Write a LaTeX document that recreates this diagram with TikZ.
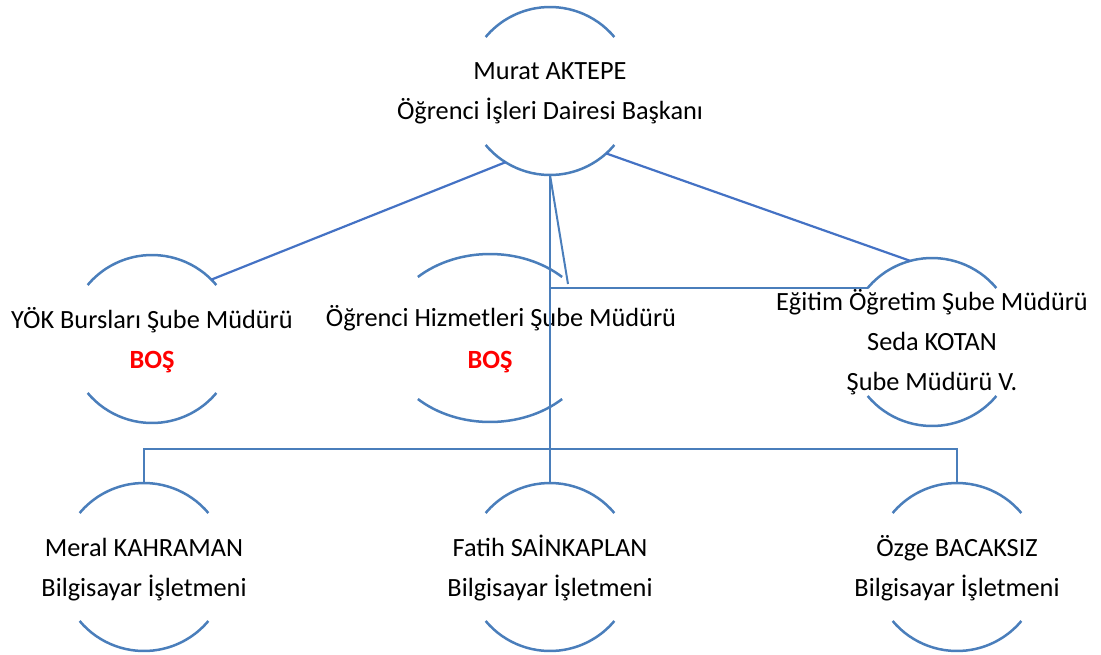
\documentclass[tikz,border=0pt]{standalone}
\usepackage{fontspec}
\setmainfont{Carlito}
\usepackage{tikz}
\usetikzlibrary{
    positioning,
    shapes.geometric
}

\begin{document}
\begin{tikzpicture}[
    x=1pt, y=1pt,
    font=\fontsize{26.3}{40}\selectfont,
    ring/.style={
    	circle, draw=none,
    	minimum size=168pt,
    	inner sep=0pt, outer sep=0pt
    }, oval/.style={
    	ellipse, draw=none,
    	minimum width=210pt, minimum height=168pt,
    	inner sep=0pt, outer sep=0pt
    }, txt/.style={
    	anchor=base, align=center, inner sep=0pt
    }, rim/.style={
    	draw=arc-blue, line width=2.5pt
    }, tree/.style={
    	draw=arc-blue, line width=2.6pt
    }, link/.style={
    	draw=link-blue, line width=2.2pt
    }]
    \definecolor{arc-blue}{RGB}{74, 126, 187}
    \definecolor{link-blue}{RGB}{68, 114, 196}
    \definecolor{boss-red}{RGB}{255, 0, 0}

    \useasboundingbox (0,0) rectangle (1101,-654);

    %%% SHAPES
    \node[ring] (baskan) at (550,-91) {};
    \node[ring] (yok) at (152,-339) {};
    \node[oval] (hizmet) at (490,-338) {};
    \node[ring] (egitim) at (932,-342) {};
    \node[ring] (meral) at (144,-567) {};
    \node[ring] (fatih) at (550,-567) {};
    \node[ring] (ozge) at (957,-567) {};

    \draw[rim] (baskan.40) arc[start angle=40, end angle=140, radius=84pt];
    \draw[rim] (baskan.220) arc[start angle=220, end angle=320, radius=84pt];
    \draw[rim] (yok.40) arc[start angle=40, end angle=140, radius=84pt];
    \draw[rim] (yok.220) arc[start angle=220, end angle=320, radius=84pt];
    \draw[rim] ([shift={(46.6:105pt and 84pt)}]hizmet.center) arc[start angle=46.6, end angle=133.4, x radius=105pt, y radius=84pt];
    \draw[rim] ([shift={(226.6:105pt and 84pt)}]hizmet.center) arc[start angle=226.6, end angle=313.4, x radius=105pt, y radius=84pt];
    \draw[rim] (egitim.40) arc[start angle=40, end angle=140, radius=84pt];
    \draw[rim] (egitim.220) arc[start angle=220, end angle=320, radius=84pt];
    \draw[rim] (meral.40) arc[start angle=40, end angle=140, radius=84pt];
    \draw[rim] (meral.220) arc[start angle=220, end angle=320, radius=84pt];
    \draw[rim] (fatih.40) arc[start angle=40, end angle=140, radius=84pt];
    \draw[rim] (fatih.220) arc[start angle=220, end angle=320, radius=84pt];
    \draw[rim] (ozge.40) arc[start angle=40, end angle=140, radius=84pt];
    \draw[rim] (ozge.220) arc[start angle=220, end angle=320, radius=84pt];
    %%% SHAPES

    %%% TEXTS (base = last line)
    \node[txt] (baskan-txt) at (550,-119) {Murat AKTEPE\\Öğrenci İşleri Dairesi Başkanı};
    \node[txt] (yok-txt) at (152,-368) {YÖK Bursları Şube Müdürü\\\textcolor{boss-red}{\bfseries BOŞ}};
    \node[txt] (hizmet-txt) at (501,-326) {Öğrenci Hizmetleri Şube Müdürü};
    \node[txt, text=boss-red, font=\fontsize{26.3}{40}\selectfont\bfseries] (hizmet-bos) at (490,-368) {BOŞ};
    \node[txt] (egitim-txt) at (932,-390) {Eğitim Öğretim Şube Müdürü\\Seda KOTAN\\Şube Müdürü V.};
    \node[txt] (meral-txt) at (144,-596) {Meral KAHRAMAN\\Bilgisayar İşletmeni};
    \node[txt] (fatih-txt) at (550,-596) {Fatih SAİNKAPLAN\\Bilgisayar İşletmeni};
    \node[txt] (ozge-txt) at (957,-596) {Özge BACAKSIZ\\Bilgisayar İşletmeni};
    %%% TEXTS

    %%% EDGES
    \coordinate (bus) at (baskan.south |- 0,-449);
    \coordinate (side) at (baskan.south |- egitim.140);
    \coordinate (kink) at (568,-284);

    \draw[link] (baskan.238) -- (yok.45);
    \draw[link] (baskan.312) -- (egitim.105);

    \draw[tree] (baskan.south) -- (fatih.north);
    \draw[tree, line width=2pt] (baskan.south) -- (kink);
    \draw[tree] (side) -- (egitim.140);
    \draw[tree] (meral.north) |- (bus) -| (ozge.north);
    %%% EDGES

\end{tikzpicture}
\end{document}
